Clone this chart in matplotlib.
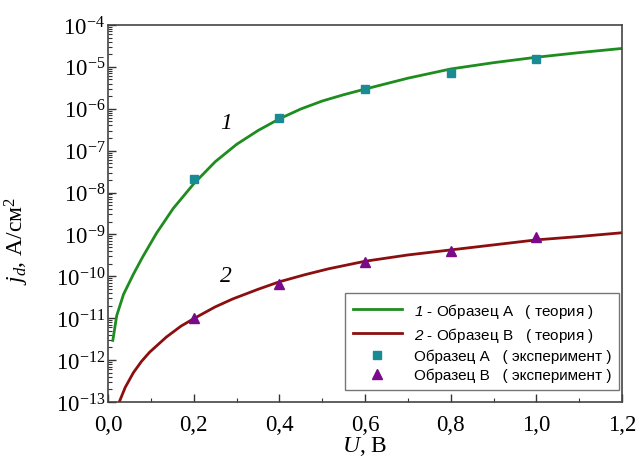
import numpy as np
import matplotlib
matplotlib.use('Agg')
import matplotlib.pyplot as plt
from matplotlib.ticker import LogLocator, MultipleLocator, FixedLocator, NullFormatter

plt.rcParams['font.family'] = ['Liberation Serif', 'DejaVu Serif']
plt.rcParams['mathtext.fontset'] = 'custom'
plt.rcParams['mathtext.rm'] = 'Liberation Serif'
plt.rcParams['mathtext.it'] = 'Liberation Serif:italic'
plt.rcParams['mathtext.sf'] = 'Liberation Sans:italic'

# Theory curve 1 (sample A), log10 of j
u_theory_a = [0.011, 0.020, 0.036, 0.059, 0.080, 0.113, 0.152, 0.200, 0.250, 0.300,
              0.350, 0.400, 0.450, 0.500, 0.550, 0.600, 0.700, 0.800, 0.900,
              1.000, 1.100, 1.200]
lg_theory_a = [-11.53, -10.94, -10.43, -9.95, -9.55, -8.97, -8.38, -7.79, -7.265, -6.85,
               -6.52, -6.24, -6.005, -5.815, -5.665, -5.53, -5.27, -5.05, -4.90,
               -4.77, -4.66, -4.56]

# Theory curve 2 (sample B)
u_theory_b = [0.026, 0.040, 0.059, 0.078, 0.097, 0.136, 0.170, 0.200, 0.250, 0.291,
              0.350, 0.400, 0.460, 0.515, 0.600, 0.700, 0.800, 0.900, 1.000, 1.100, 1.200]
lg_theory_b = [-13.0, -12.65, -12.30, -12.03, -11.81, -11.45, -11.19, -11.01, -10.73, -10.54,
               -10.31, -10.13, -9.96, -9.82, -9.64, -9.49, -9.37, -9.25, -9.13, -9.05, -8.96]

# Experiment
u_exp = [0.2, 0.4, 0.6, 0.8, 1.0]
j_exp_a = [2.1e-8, 6.0e-7, 3.0e-6, 7.1e-6, 1.5e-5]
j_exp_b = [1.0e-11, 6.6e-11, 2.2e-10, 4.1e-10, 8.5e-10]

x_ticks = [0.0, 0.2, 0.4, 0.6, 0.8, 1.0, 1.2]
x_tick_labels = ['0,0', '0,2', '0,4', '0,6', '0,8', '1,0', '1,2']
y_decades = list(range(-13, -3))

fig = plt.figure(figsize=(6.36, 4.64), dpi=100)
ax = fig.add_axes([0.170, 0.1315, 0.808, 0.8125])

ax.plot(u_theory_a, 10.0 ** np.array(lg_theory_a), color='#1f8c1f', lw=2,
        label=r'$\mathsf{1}$ - Образец А   ( теория )')
ax.plot(u_theory_b, 10.0 ** np.array(lg_theory_b), color='#8b0f0f', lw=2,
        label=r'$\mathsf{2}$ - Образец В   ( теория )')
ax.plot(u_exp, j_exp_a, ls='none', marker='s', ms=6, color='#1a8a94',
        label='Образец А   ( эксперимент )')
ax.plot(u_exp, j_exp_b, ls='none', marker='^', ms=7, color='#7a0a8a',
        label='Образец В   ( эксперимент )')

ax.set_yscale('log')
ax.set_xlim(0, 1.2)
ax.set_ylim(1e-13, 1e-4)

ax.xaxis.set_major_locator(FixedLocator(x_ticks))
ax.set_xticklabels(x_tick_labels)
ax.xaxis.set_minor_locator(MultipleLocator(0.1))
ax.yaxis.set_major_locator(FixedLocator([10.0 ** d for d in y_decades]))
ax.set_yticklabels([r'$10^{%d}$' % d for d in y_decades])
ax.yaxis.set_minor_locator(LogLocator(base=10, subs=np.arange(2, 10), numticks=30))
ax.yaxis.set_minor_formatter(NullFormatter())

ax.tick_params(which='both', direction='in', labelsize=16.5, color='#333333')
ax.tick_params(which='major', length=6, width=1)
ax.tick_params(which='minor', length=3, width=0.8)
ax.tick_params(axis='x', pad=9)
ax.tick_params(axis='y', pad=2)
for s in ax.spines.values():
    s.set_color('#444444')
    s.set_linewidth(1.2)

ax.set_xlabel(r'$U$, В', fontsize=17, labelpad=-1)
ax.set_ylabel(r'$j_d$, А/см$^2$', fontsize=17)
ax.yaxis.set_label_coords(-0.15, 0.43)

ax.text(0.276, 10 ** -6.32, '1', fontsize=17, style='italic', ha='center', va='center')
ax.text(0.276, 10 ** -9.99, '2', fontsize=17, style='italic', ha='center', va='center')

leg = ax.legend(loc='lower right', bbox_to_anchor=(0.994, 0.032), borderaxespad=0,
                prop={'family': 'Liberation Sans', 'size': 11},
                frameon=True, fancybox=False, edgecolor='#555555',
                handlelength=3.2, labelspacing=0.32, borderpad=0.5)
leg.get_frame().set_linewidth(1.0)

fig.savefig('out.png', dpi=100)
